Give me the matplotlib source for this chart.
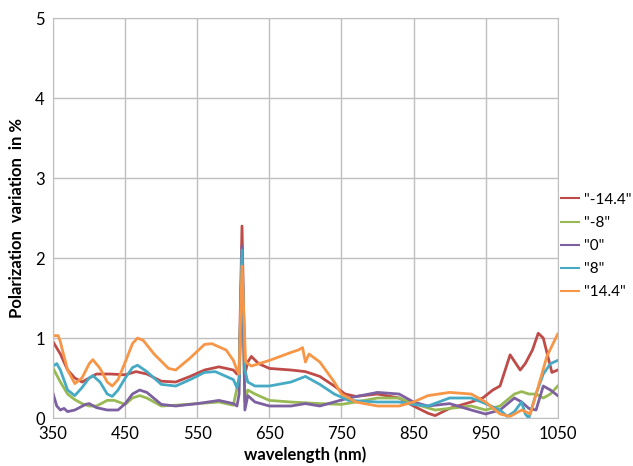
import numpy as np
import matplotlib
matplotlib.use("Agg")
import matplotlib.pyplot as plt

plt.rcParams['font.family'] = ['Lato', 'DejaVu Sans']

# wavelength (nm) / value pairs
wl_m144 = [350, 360, 370, 380, 390, 400, 410, 430, 450, 465, 480, 500, 520, 540, 560, 580, 600, 605, 608, 612, 616, 620, 625, 635, 650, 680, 700, 720, 740, 755, 770, 800, 830, 850, 870, 880, 900, 930, 946, 960, 970, 984, 998, 1005, 1015, 1023, 1030, 1042, 1050]
val_m144 = [0.95, 0.8, 0.6, 0.5, 0.45, 0.5, 0.55, 0.55, 0.54, 0.58, 0.55, 0.46, 0.45, 0.52, 0.6, 0.64, 0.6, 0.55, 0.6, 2.4, 0.55, 0.7, 0.77, 0.68, 0.62, 0.6, 0.58, 0.52, 0.4, 0.3, 0.27, 0.3, 0.25, 0.15, 0.06, 0.03, 0.12, 0.2, 0.25, 0.35, 0.4, 0.79, 0.6, 0.68, 0.85, 1.06, 1.0, 0.57, 0.6]

wl_m8 = [350, 360, 370, 380, 390, 400, 410, 425, 435, 450, 460, 470, 480, 500, 520, 550, 580, 600, 608, 612, 616, 620, 630, 650, 680, 720, 750, 770, 800, 830, 850, 880, 900, 930, 950, 970, 990, 1000, 1010, 1020, 1030, 1040, 1050]
val_m8 = [0.62, 0.45, 0.3, 0.23, 0.18, 0.15, 0.15, 0.22, 0.22, 0.17, 0.25, 0.28, 0.25, 0.15, 0.16, 0.18, 0.2, 0.16, 0.5, 2.0, 0.2, 0.35, 0.3, 0.22, 0.2, 0.18, 0.17, 0.2, 0.25, 0.25, 0.18, 0.1, 0.12, 0.15, 0.1, 0.15, 0.3, 0.33, 0.3, 0.3, 0.25, 0.3, 0.4]

wl_0 = [350, 355, 360, 365, 370, 380, 395, 400, 410, 425, 440, 450, 460, 470, 480, 500, 520, 550, 580, 600, 605, 608, 612, 616, 620, 630, 650, 680, 700, 720, 740, 760, 800, 830, 850, 870, 900, 930, 950, 970, 990, 1000, 1010, 1020, 1030, 1040, 1050]
val_0 = [0.3, 0.15, 0.1, 0.12, 0.08, 0.1, 0.17, 0.18, 0.13, 0.1, 0.1, 0.18, 0.3, 0.35, 0.32, 0.17, 0.15, 0.18, 0.22, 0.18, 0.15, 0.3, 2.15, 0.1, 0.28, 0.2, 0.15, 0.15, 0.18, 0.15, 0.2, 0.25, 0.32, 0.3, 0.2, 0.15, 0.18, 0.1, 0.05, 0.1, 0.25, 0.2, 0.12, 0.1, 0.4, 0.35, 0.28]

wl_8 = [350, 355, 360, 370, 380, 390, 400, 405, 415, 425, 432, 440, 450, 460, 467, 480, 500, 520, 540, 560, 575, 590, 600, 605, 608, 612, 616, 620, 630, 650, 680, 700, 720, 740, 760, 800, 830, 850, 870, 900, 930, 950, 970, 980, 990, 1000, 1005, 1010, 1020, 1030, 1040, 1050]
val_8 = [0.65, 0.68, 0.6, 0.35, 0.28, 0.38, 0.5, 0.53, 0.45, 0.3, 0.27, 0.35, 0.5, 0.63, 0.66, 0.58, 0.42, 0.4, 0.48, 0.57, 0.58, 0.52, 0.48, 0.38, 0.5, 2.1, 0.6, 0.45, 0.4, 0.4, 0.45, 0.52, 0.42, 0.3, 0.22, 0.2, 0.2, 0.17, 0.15, 0.25, 0.25, 0.18, 0.1, 0.02, 0.08, 0.2, 0.05, 0.0, 0.3, 0.55, 0.68, 0.72]

wl_144 = [350, 357, 360, 370, 380, 390, 400, 405, 415, 425, 432, 440, 450, 460, 467, 475, 490, 510, 520, 540, 560, 570, 590, 600, 605, 608, 612, 617, 625, 650, 680, 690, 696, 700, 705, 720, 740, 750, 770, 800, 830, 850, 870, 900, 930, 950, 970, 984, 1000, 1012, 1023, 1035, 1050]
val_144 = [1.03, 1.03, 0.95, 0.6, 0.43, 0.5, 0.68, 0.73, 0.62, 0.45, 0.4, 0.48, 0.7, 0.93, 1.0, 0.97, 0.8, 0.62, 0.6, 0.75, 0.92, 0.93, 0.85, 0.72, 0.6, 0.55, 1.9, 0.7, 0.65, 0.72, 0.82, 0.85, 0.88, 0.7, 0.8, 0.7, 0.45, 0.3, 0.2, 0.15, 0.15, 0.2, 0.28, 0.32, 0.3, 0.2, 0.05, 0.02, 0.1, 0.05, 0.39, 0.77, 1.05]

series = [
    ('"-14.4"', wl_m144, val_m144, '#BE4B48'),
    ('"-8"', wl_m8, val_m8, '#98B954'),
    ('"0"', wl_0, val_0, '#7D60A0'),
    ('"8"', wl_8, val_8, '#46AAC5'),
    ('"14.4"', wl_144, val_144, '#F79646'),
]

fig = plt.figure(figsize=(6.33, 4.66), dpi=100)
ax = fig.add_axes([0.084, 0.103, 0.797, 0.858])

for name, x, y, c in series:
    ax.plot(x, y, color=c, lw=2, label=name)

ax.set_xlim(350, 1050)
ax.set_ylim(0, 5)
ax.set_xticks(np.arange(350, 1051, 100))
ax.set_yticks(np.arange(0, 6, 1))
ax.grid(True, color='#BFBFBF', lw=1)
ax.set_axisbelow(True)
for s in ax.spines.values():
    s.set_color('#BFBFBF')
ax.tick_params(axis='x', length=0, labelsize=12, pad=6)
ax.tick_params(axis='y', length=0, labelsize=12, pad=6)

ax.set_xlabel('wavelength (nm)', fontsize=12, fontweight='bold', labelpad=3)
ax.set_ylabel('Polarization  variation  in %', fontsize=12, fontweight='bold', labelpad=7)

leg = ax.legend(loc='center left', bbox_to_anchor=(1.0, 0.43), frameon=False,
                fontsize=11, handlelength=1.2, labelspacing=0.6, handletextpad=0.3,
                borderaxespad=0.1, borderpad=0.1)
for h in leg.get_lines():
    h.set_linewidth(1.5)

fig.savefig('out.png', dpi=100)
